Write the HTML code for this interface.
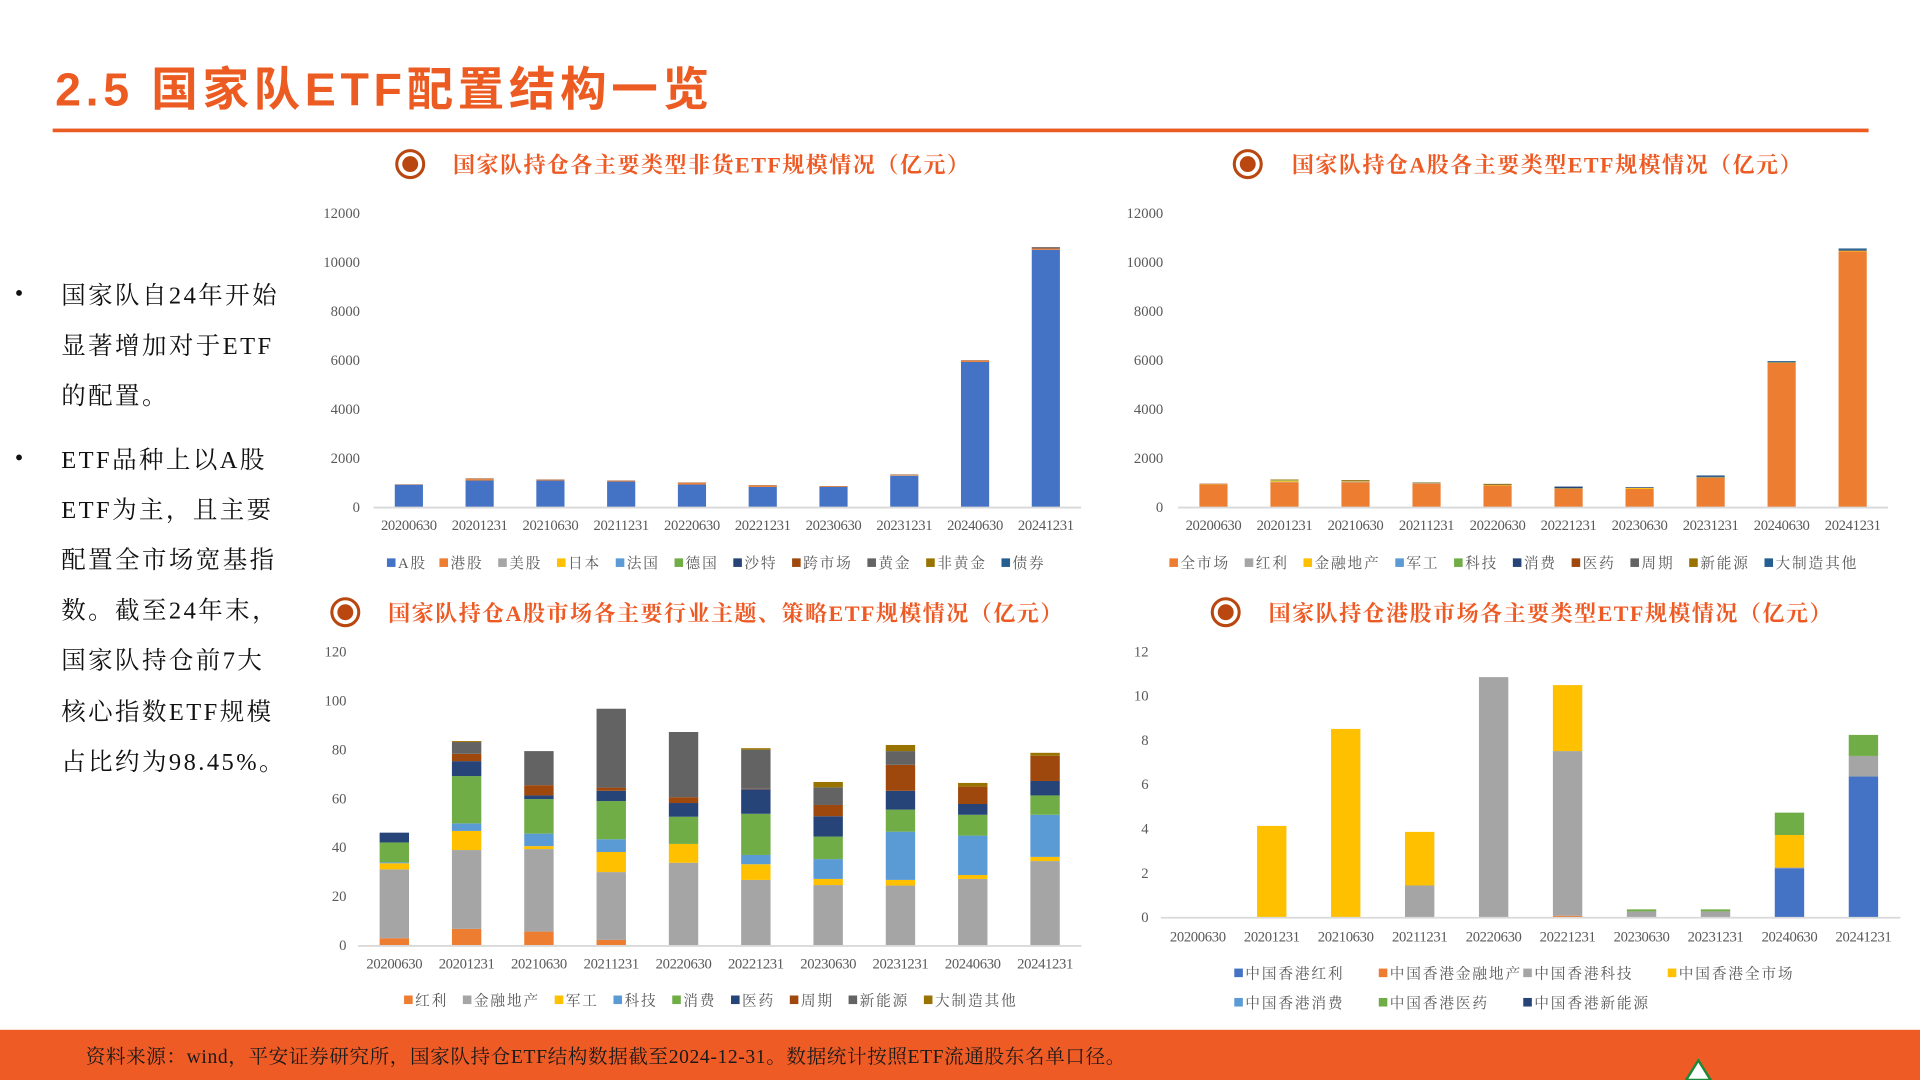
<!DOCTYPE html>
<html><head><meta charset="utf-8">
<style>
html,body{margin:0;padding:0;background:#fff;}
svg{display:block;}
.serif{font-family:"Liberation Serif","Noto Serif CJK SC",serif;}
</style></head>
<body>
<svg id="page" width="1920" height="1080" viewBox="0 0 1568 882" xmlns="http://www.w3.org/2000/svg">
  <text x="45" y="86" font-family="'Liberation Sans','Noto Sans CJK SC',sans-serif" font-weight="bold" font-size="38" letter-spacing="3.8" fill="#EC5B22">2.5 国家队ETF配置结构一览</text>
  <rect x="43" y="105" width="1483" height="3" fill="#EC5B22"/>

  <g class="serif" font-size="20" fill="#111" letter-spacing="2">
    <text x="12" y="246">•</text>
    <text x="50" y="248">国家队自24年开始</text>
    <text x="50" y="289">显著增加对于ETF</text>
    <text x="50" y="330">的配置。</text>
    <text x="12" y="380">•</text>
    <text x="50" y="382">ETF品种上以A股</text>
    <text x="50" y="423">ETF为主，且主要</text>
    <text x="50" y="464">配置全市场宽基指</text>
    <text x="50" y="505">数。截至24年末，</text>
    <text x="50" y="546">国家队持仓前7大</text>
    <text x="50" y="588">核心指数ETF规模</text>
    <text x="50" y="629">占比约为98.45%。</text>
  </g>

  <g id="titles"></g>
  <g id="c1"></g>
  <g id="c2"></g>
  <g id="c3"></g>
  <g id="c4"></g>

  <rect x="0" y="841" width="1568" height="41" fill="#EF5B25"/>
  <text class="serif" x="70" y="868" font-size="16" letter-spacing="0.5" fill="#1a1a1a">资料来源：wind，平安证券研究所，国家队持仓ETF结构数据截至2024-12-31。数据统计按照ETF流通股东名单口径。</text>
  <polygon points="1377,882 1387,866 1397,882" fill="#fff" stroke="#1a8a3a" stroke-width="2"/>
</svg>
<script>
// ---------- data ----------
const dates = ["20200630","20201231","20210630","20211231","20220630","20221231","20230630","20231231","20240630","20241231"];

// Chart 1: 非货ETF by type
const c1Ticks = [0,2000,4000,6000,8000,10000,12000];
const c1AShare = [914,1078,1078,1037,914,818,818,1268,5920,10500];
const c1HK = [10,60,30,30,60,50,20,20,50,60];
const c1US = [0,10,0,0,0,0,0,30,0,0];
const c1Japan = [0,0,0,0,0,0,0,0,0,0];
const c1France = [0,0,0,0,0,0,0,0,0,0];
const c1Germany = [0,0,0,0,0,0,0,0,0,0];
const c1Saudi = [0,0,0,0,0,0,0,0,0,10];
const c1Cross = [0,20,10,10,20,20,10,10,20,25];
const c1Gold = [0,0,0,0,0,0,0,0,0,0];
const c1NonGold = [0,0,0,0,0,0,0,0,0,0];
const c1Bond = [0,0,0,0,0,0,0,0,0,10];

// Chart 2: A股 ETF by type
const c2Ticks = [0,2000,4000,6000,8000,10000,12000];
const c2All = [914,1010,1010,955,873,737,737,1187,5890,10435];
const c2Div = [0,20,20,20,0,0,0,0,0,0];
const c2Fin = [15,40,20,20,20,20,40,20,10,30];
const c2Mil = [0,0,0,20,0,0,0,0,0,0];
const c2Tech = [0,20,0,0,0,0,0,0,0,0];
const c2Cons = [0,0,0,0,0,75,30,50,0,30];
const c2Med = [20,0,0,0,0,0,0,0,0,0];
const c2Cyc = [0,0,20,0,20,0,0,0,0,0];
const c2New = [0,30,30,0,30,0,0,0,0,0];
const c2Mfg = [0,0,0,0,0,0,0,30,55,60];

// Chart 3: A股 sector / strategy ETF
const c3Ticks = [0,20,40,60,80,100,120];
const c3Div = [2.9,6.7,5.6,2.2,0,0,0,0,0,0];
const c3Fin = [28.1,32.2,33.7,27.7,33.7,26.7,24.6,24.4,27.1,34.4];
const c3Mil = [2.5,7.8,1.2,8.2,7.7,6.4,2.5,2.3,1.6,1.7];
const c3Tech = [0.4,3.1,5.1,5.2,0,3.8,8.1,19.7,16.1,17.2];
const c3Cons = [8.1,19.3,14.1,15.6,11.1,16.8,9.2,9.0,8.5,7.9];
const c3Med = [4,6.1,1.5,4.2,5.6,10,8.3,7.7,4.4,5.9];
const c3Cyc = [0,3.0,4.2,1.3,2.4,0.2,4.6,10.6,7.1,10.3];
const c3New = [0,4.8,13.9,32.2,26.6,16,7.2,5.6,0,0];
const c3Mfg = [0,0.4,0,0,0,0.6,2.2,2.5,1.5,1.2];

// Chart 4: 港股 ETF
const c4Ticks = [0,2,4,6,8,10,12];
const c4Div = [0,0,0,0,0,0,0,0,2.21,6.35];
const c4Fin = [0,0,0,0,0,0.06,0,0,0,0];
const c4Tech = [0,0,0,1.43,10.84,7.44,0.26,0.26,0.03,0.93];
const c4All = [0,4.12,8.5,2.42,0,2.98,0,0,1.47,0];
const c4Cons = [0,0,0,0,0,0,0,0,0,0];
const c4Med = [0,0,0,0,0,0,0.09,0.09,1.01,0.95];
const c4New = [0,0,0,0,0,0,0,0,0,0];

// ---------- drawing ----------
const NS = "http://www.w3.org/2000/svg";
function mk(tag, attrs, parent){
  const e = document.createElementNS(NS, tag);
  for (const k in attrs) e.setAttribute(k, attrs[k]);
  if (parent) parent.appendChild(e);
  return e;
}
const SERIF = "'Liberation Serif','Noto Serif CJK SC',serif";

function chartTitle(cx, cy, tx, label, name){
  const g = document.getElementById('titles');
  const grp = mk('g', {}, g);
  
  
  mk('circle', {cx:cx, cy:cy, r:11, fill:'none', stroke:'#B9470F', 'stroke-width':2.5}, grp);
  mk('circle', {cx:cx, cy:cy, r:6.5, fill:'#B9470F'}, grp);
  const t = mk('text', {x:tx, y:cy+7, 'font-family':SERIF, 'font-size':18, 'font-weight':'bold', fill:'#EE5A24', 'letter-spacing':1.2}, grp);
  t.textContent = label;
}

function textWidth(s, cw){
  let w = 0;
  for (const ch of s) w += /[\x00-\x7f]/.test(ch) ? cw*0.62 : cw;
  return w;
}

function drawChart(id, o){
  const g = document.getElementById(id);
  const yScale = v => o.yBase - (v / o.max) * (o.yBase - o.yTop);
  const step = (o.x1 - o.x0) / o.cats.length;
  const xCenter = i => o.x0 + step * (i + 0.5);
  o.ticks.forEach(t => {
    const tl = mk('text', {x:o.labelX, y:yScale(t)+4, 'text-anchor':'end', 'font-family':SERIF, 'font-size':12, fill:'#595959'}, g);
    
    
    tl.textContent = t;
  });
  o.cats.forEach((c, i) => {
    let acc = 0;
    o.series.forEach(s => {
      const v = s.values[i];
      if (v > 0) {
        const y0 = yScale(acc), y1 = yScale(acc + v);
        const r = mk('rect', {x:xCenter(i)-o.barW/2, y:y1, width:o.barW, height:Math.max(0.3, y0-y1), fill:s.color}, g);
        
        
      }
      acc += v;
    });
    const lbl = mk('text', {x:xCenter(i), y:o.catY, 'text-anchor':'middle', 'font-family':SERIF, 'font-size':12, fill:'#595959', 'letter-spacing':-0.3}, g);
    
    
    lbl.textContent = c;
  });
  const ax = mk('line', {x1:o.x0, x2:o.x1, y1:o.yBase+0.5, y2:o.yBase+0.5, stroke:'#D9D9D9', 'stroke-width':1.5}, g);
  
  
  let lx = o.legX, ly = o.legY;
  o.series.forEach((s, k) => {
    if (o.legCols) { lx = o.legCols[k % o.legCols.length]; ly = o.legY + Math.floor(k / o.legCols.length) * o.legRowH; }
    const lg = mk('g', {}, g);
    
    
    mk('rect', {x:lx, y:ly-8, width:7, height:7, fill:s.color}, lg);
    const t = mk('text', {x:lx+9, y:ly, 'font-family':SERIF, 'font-size':12, fill:'#595959', 'letter-spacing':1.5}, lg);
    t.textContent = s.name;
    if (!o.legCols) lx += 9 + textWidth(s.name, 13.5) + 12;
  });
}

chartTitle(335, 134, 370, '国家队持仓各主要类型非货ETF规模情况（亿元）', 'chart1-title');
chartTitle(1019, 134, 1055, '国家队持仓A股各主要类型ETF规模情况（亿元）', 'chart2-title');
chartTitle(282, 500, 317, '国家队持仓A股市场各主要行业主题、策略ETF规模情况（亿元）', 'chart3-title');
chartTitle(1001, 500, 1036, '国家队持仓港股市场各主要类型ETF规模情况（亿元）', 'chart4-title');

drawChart('c1', {cats:dates, ticks:c1Ticks, max:12000, x0:305, x1:883, yBase:414, yTop:174, barW:23, labelX:294, catY:433, legX:316, legY:464,
  series:[
    {name:'A股', color:'#4472C4', values:c1AShare},
    {name:'港股', color:'#ED7D31', values:c1HK},
    {name:'美股', color:'#A5A5A5', values:c1US},
    {name:'日本', color:'#FFC000', values:c1Japan},
    {name:'法国', color:'#5B9BD5', values:c1France},
    {name:'德国', color:'#70AD47', values:c1Germany},
    {name:'沙特', color:'#264478', values:c1Saudi},
    {name:'跨市场', color:'#9E480E', values:c1Cross},
    {name:'黄金', color:'#636363', values:c1Gold},
    {name:'非黄金', color:'#997300', values:c1NonGold},
    {name:'债券', color:'#255E91', values:c1Bond}
  ]});

drawChart('c2', {cats:dates, ticks:c2Ticks, max:12000, x0:962, x1:1542, yBase:414, yTop:174, barW:23, labelX:950, catY:433, legX:955, legY:464,
  series:[
    {name:'全市场', color:'#ED7D31', values:c2All},
    {name:'红利', color:'#A5A5A5', values:c2Div},
    {name:'金融地产', color:'#FFC000', values:c2Fin},
    {name:'军工', color:'#5B9BD5', values:c2Mil},
    {name:'科技', color:'#70AD47', values:c2Tech},
    {name:'消费', color:'#264478', values:c2Cons},
    {name:'医药', color:'#9E480E', values:c2Med},
    {name:'周期', color:'#636363', values:c2Cyc},
    {name:'新能源', color:'#997300', values:c2New},
    {name:'大制造其他', color:'#255E91', values:c2Mfg}
  ]});

drawChart('c3', {cats:dates, ticks:c3Ticks, max:120, x0:292.5, x1:883, yBase:772, yTop:532, barW:24, labelX:283, catY:791, legX:330, legY:821,
  series:[
    {name:'红利', color:'#ED7D31', values:c3Div},
    {name:'金融地产', color:'#A5A5A5', values:c3Fin},
    {name:'军工', color:'#FFC000', values:c3Mil},
    {name:'科技', color:'#5B9BD5', values:c3Tech},
    {name:'消费', color:'#70AD47', values:c3Cons},
    {name:'医药', color:'#264478', values:c3Med},
    {name:'周期', color:'#9E480E', values:c3Cyc},
    {name:'新能源', color:'#636363', values:c3New},
    {name:'大制造其他', color:'#997300', values:c3Mfg}
  ]});

drawChart('c4', {cats:dates, ticks:c4Ticks, max:12, x0:948, x1:1552, yBase:749, yTop:532, barW:24, labelX:938, catY:769, legY:799, legRowH:24, legCols:[1008,1126,1244,1362],
  series:[
    {name:'中国香港红利', color:'#4472C4', values:c4Div},
    {name:'中国香港金融地产', color:'#ED7D31', values:c4Fin},
    {name:'中国香港科技', color:'#A5A5A5', values:c4Tech},
    {name:'中国香港全市场', color:'#FFC000', values:c4All},
    {name:'中国香港消费', color:'#5B9BD5', values:c4Cons},
    {name:'中国香港医药', color:'#70AD47', values:c4Med},
    {name:'中国香港新能源', color:'#264478', values:c4New}
  ]});
</script>
</body></html>
